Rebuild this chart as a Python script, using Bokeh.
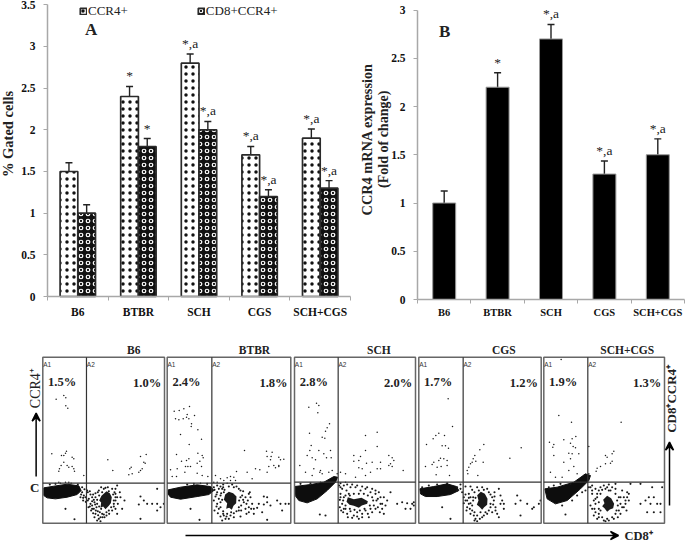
from bokeh.plotting import figure
from bokeh.models import (ColumnDataSource, Whisker, TeeHead, Label, LabelSet, Legend, LegendItem,
                          FixedTicker, Range1d, Arrow, VeeHead, LinearAxis)
from bokeh.embed import file_html
from bokeh.resources import INLINE

SERIF = "Liberation Serif"
W, H = 685, 541
groups = ["B6", "BTBR", "SCH", "CGS", "SCH+CGS"]

ccr4 = [1.5, 2.4, 2.8, 1.7, 1.9]
ccr4_err = [0.105, 0.12, 0.11, 0.10, 0.11]
ccr4_marks = ["", "*", "*,a", "*,a", "*,a"]
cd8 = [1.0, 1.8, 2.0, 1.2, 1.3]
cd8_err = [0.10, 0.095, 0.10, 0.08, 0.09]
cd8_marks = ["", "*", "*,a", "*,a", "*,a"]

mrna = [1.0, 2.2, 2.7, 1.3, 1.5]
mrna_err = [0.125, 0.15, 0.15, 0.135, 0.165]
mrna_marks = ["", "*", "*,a", "*,a", "*,a"]

pct_a1 = ["1.5%", "2.4%", "2.8%", "1.7%", "1.9%"]
pct_a2 = ["1.0%", "1.8%", "2.0%", "1.2%", "1.3%"]

# flow panels: channel window (x0, x1, y bottom, y top), gates and events
windows = [(127, 492, 548, 50), (500, 871, 548, 50), (12, 375, 548, 50), (385, 752, 548, 50), (760, 1122, 548, 50)]
panel_px = [(42.3, 164), (166.7, 290.3), (294, 415), (418.3, 540.7), (543.3, 664)]
gates = [(258, 428), (634, 428), (143, 425), (518, 425), (892, 425)]

b6_blob = [(130,442),(160,437),(200,431),(235,436),(242,450),(230,462),(200,470),(165,475),(140,472),(130,465)]
b6_core = [(303,466),(318,452),(328,458),(334,470),(331,488),(325,496),(315,506),(308,498),(300,502),(302,486),(296,480)]
b6_events = [(167,176),(190,165),(196,172),(196,196),(202,203),(154,340),(198,332),(195,338),(190,345),(183,345),(215,350),(220,355),(190,365),(182,375),(177,385),(175,392),(200,375),(205,380),(215,378),(220,385),(222,392),(175,425),(205,425),(250,405),
 (322,358),(337,390),(437,342),(420,348),(430,365),(434,368),(425,385),(420,390),(415,395),(392,380),(388,385),(395,400),(385,403),
 (420,468),(430,480),(415,492),(440,490),(455,490),(470,490),(480,500),(470,510),(490,490),(470,445),(350,435),(345,460),(360,470),(372,480),(365,505),(350,520),(195,505),(222,536),(420,535),
 (245,455),(250,465),(255,470),(262,480),(265,475),(270,490),(275,495),(260,450),(268,452),(278,462),(285,470),(282,485),(290,478),(288,500),(280,505),(292,512),(285,520),(295,535),(290,540),(300,530),(305,520),(298,515),(310,522),(318,515),(325,510),(332,500),(340,490),(345,505),(340,480),(345,470),(322,440),(310,445),(295,450),(302,440),(335,445),(248,480),(240,470),(272,510),(278,518),
 (262,455),(270,462),(275,470),(280,478),(285,458),(292,455),(296,465),(275,482),(268,498),(284,492),(290,490),(296,498),(302,505),(286,510),(293,524),(300,542),(306,530),(312,530),(318,525),(326,520),(335,510),(340,498),(345,480),(352,490),(358,455),(350,470),(325,452),(315,442),(305,455),(342,455),(338,462),(345,445),(212,428),(205,432),(180,428),(195,425),(165,430),(148,432),(232,432),(245,440),(252,446),(242,462),(248,472),(256,484),(264,500),(275,505),(282,530)]

btbr_blob = [(503,448),(540,440),(590,433),(630,438),(640,450),(625,462),(590,468),(540,476),(510,470),(502,460)]
btbr_core = [(674,462),(685,454),(698,458),(708,468),(707,488),(699,496),(694,508),(686,502),(677,505),(680,488),(670,478)]
btbr_events = [(521,212),(536,210),(550,205),(567,198),(525,235),(535,238),(548,235),(558,230),(565,235),(573,250),(572,258),(560,222),(582,225),(592,268),(540,282),(603,296),(566,312),(528,342),(592,338),(605,345),(608,352),(565,355),(558,360),(543,362),(598,362),(590,368),(603,378),(555,378),(562,378),(570,378),(510,388),(530,385),(553,395),(590,398),(515,408),(528,408),(605,405),(622,408),
 (732,330),(798,332),(815,335),(800,348),(812,348),(835,350),(850,356),(810,358),(840,358),(820,375),(835,375),(805,378),(825,382),(835,378),(800,395),(765,385),(778,388),(740,395),(708,393),(755,415),(690,408),(700,410),(680,412),(645,405),(660,415),(670,420),(690,420),(705,420),
 (790,468),(800,470),(800,485),(790,492),(810,495),(830,480),(840,490),(855,490),(865,490),(845,510),(760,505),(770,502),(785,515),(748,455),(745,460),(570,505),(597,538),(800,538),
 (640,440),(650,435),(660,438),(665,445),(650,455),(645,468),(655,475),(640,480),(650,490),(660,500),(668,512),(655,505),(670,525),(675,535),(665,540),(680,520),(690,525),(700,518),(715,510),(722,495),(730,485),(738,490),(735,505),(745,515),(725,465),(720,450),(700,440),(685,438),(670,455),(660,465),(665,478),(720,528),(745,500),
 (642,448),(648,462),(655,445),(662,458),(668,440),(672,448),(660,485),(648,498),(642,510),(652,518),(660,528),(668,520),(678,528),(685,535),(692,515),(700,530),(708,512),(715,500),(722,510),(728,478),(735,470),(742,480),(728,452),(715,445),(708,438),(695,432),(680,428),(668,432),(640,425),(650,425),(620,430),(600,428),(580,430),(560,432),(720,470),(716,480),(750,470),(755,490),(738,520),(752,505),(760,520),(775,490)]

sch_blob = [(12,438),(60,432),(100,425),(130,408),(141,410),(135,425),(110,450),(80,475),(50,487),(25,480),(14,465)]
sch_core = [(172,470),(190,476),(213,472),(232,482),(230,490),(214,495),(205,502),(190,496),(177,493),(168,484)]
sch_events = [(55,200),(78,188),(85,195),(82,217),(117,250),(110,262),(105,272),(57,278),(95,290),(103,293),(62,315),(58,330),(85,330),(100,340),(120,330),(50,345),(65,352),(75,358),(108,352),(122,352),(28,375),(90,390),(95,400),(88,395),(45,395),(70,385),(125,390),(140,400),(65,405),(115,395),
 (260,275),(225,285),(260,318),(225,330),(190,345),(210,348),(295,345),(305,352),(310,360),(205,360),(190,362),(245,365),(228,368),(270,365),(300,370),(295,375),(305,378),(205,382),(215,385),(260,385),(270,385),(240,395),(338,390),(150,395),(165,400),(195,410),(225,405),
 (335,485),(350,488),(365,490),(370,495),(345,505),(360,505),(370,485),(320,490),(300,455),(275,490),(280,520),(88,522),(105,525),(205,535),
 (146,435),(155,445),(150,460),(160,470),(148,478),(155,490),(165,505),(158,515),(170,520),(180,512),(190,525),(200,515),(215,520),(225,510),(240,505),(250,495),(258,480),(245,470),(240,455),(225,445),(210,450),(195,440),(180,440),(168,450),(175,460),(255,460),(262,500),(270,470),(235,530),(148,500),
 (150,440),(160,435),(170,432),(185,432),(200,435),(215,438),(230,440),(245,445),(255,450),(265,455),(150,470),(158,480),(165,465),(178,465),(190,460),(205,460),(220,460),(232,465),(248,480),(262,475),(270,490),(255,505),(245,515),(232,520),(215,530),(200,528),(185,532),(172,530),(160,505),(152,510),(165,495),(178,505),(192,508),(208,510),(222,505),(238,495),(280,470),(285,495),(275,505),(268,515),(290,480),(150,428),(165,425),(60,428),(30,430),(90,425)]

cgs_blob = [(388,445),(430,438),(470,430),(498,438),(505,450),(480,462),(440,468),(405,468),(390,460)]
cgs_core = [(560,464),(571,454),(583,460),(591,475),(590,493),(581,500),(575,508),(566,498),(559,493),(564,480)]
cgs_events = [(473,175),(486,258),(445,278),(436,285),(462,285),(428,295),(408,312),(455,316),(465,316),(474,323),(450,353),(445,360),(460,355),(470,360),(430,365),(425,372),(405,378),(440,380),(452,378),(470,375),(437,403),(477,405),
 (692,322),(658,353),(580,312),(568,328),(553,345),(548,355),(545,365),(540,370),(556,362),(535,380),(530,390),(532,400),(562,405),(578,365),
 (680,465),(690,480),(675,490),(710,490),(725,505),(745,490),(750,480),(730,500),(690,525),(640,490),(630,490),(615,510),(455,500),(480,535),(500,450),
 (510,445),(520,470),(525,480),(535,490),(530,500),(545,510),(550,525),(555,535),(560,542),(540,470),(548,480),(535,460),(552,455),(565,450),(580,448),(595,455),(605,470),(610,480),(600,500),(605,515),(590,520),(580,525),(570,515),(625,445),(630,465),(612,455),(640,505),(625,530),
 (515,455),(525,462),(535,472),(530,480),(540,488),(545,495),(538,505),(552,515),(560,525),(568,535),(552,540),(575,530),(585,515),(595,510),(600,490),(608,492),(612,468),(600,462),(590,445),(575,440),(560,440),(545,448),(520,488),(528,510),(540,520),(548,470),(555,472),(615,500),(620,520),(635,480),(500,440),(510,432),(470,428),(440,432),(415,435),(395,440),(525,438),(540,438)]

schcgs_blob = [(763,445),(800,440),(850,425),(885,400),(900,405),(895,420),(870,445),(830,480),(795,490),(770,475)]
schcgs_core = [(938,478),(950,466),(962,473),(971,490),(968,503),(958,507),(950,514),(942,503),(935,497),(942,488)]
schcgs_events = [(812,57),(805,225),(843,245),(856,288),(845,295),(820,298),(777,305),(790,312),(787,320),(840,308),(848,318),(855,322),(835,338),(845,340),(865,340),(790,345),(840,355),(820,365),(850,378),(780,395),(835,390),(815,410),(795,410),(860,400),(880,405),
 (992,245),(970,332),(965,340),(945,345),(950,350),(965,362),(960,368),(945,370),(930,378),(920,383),(917,392),(895,318),(895,400),
 (1005,480),(1015,460),(1050,490),(1065,480),(1075,470),(1080,490),(1090,470),(1100,490),(1110,490),(1115,440),(1085,440),(1050,430),(1020,430),(1070,515),(1090,515),(1110,515),(825,522),(815,495),(940,435),
 (900,440),(905,460),(910,480),(900,495),(912,505),(920,470),(925,450),(930,440),(945,445),(955,450),(965,440),(975,460),(985,470),(990,490),(985,510),(975,520),(965,530),(950,535),(935,530),(925,520),(930,510),(915,490),(1000,500),(1010,470),(995,450),(920,535),(945,542),
 (905,435),(915,445),(920,460),(915,475),(925,485),(930,460),(935,448),(950,440),(960,450),(975,445),(980,480),(990,470),(995,500),(990,520),(982,530),(970,535),(955,540),(940,540),(925,530),(915,515),(905,505),(910,525),(925,505),(982,495),(978,510),(1000,470),(1005,490),(1008,510),(1015,480),(1010,455),(975,430),(955,432),(905,450),(895,440),(885,450),(875,455),(860,465),(845,480),(810,430),(790,435),(775,440),(840,430),(870,425)]

blobs = [b6_blob, btbr_blob, sch_blob, cgs_blob, schcgs_blob]
cores = [b6_core, btbr_core, sch_core, cgs_core, schcgs_core]
events = [b6_events, btbr_events, sch_events, cgs_events, schcgs_events]

AXIS = "#a8a8a8"
INK = "#222222"


def full_x(d0, d1, px0, px1):
    k = (d1 - d0) / (px1 - px0)
    return Range1d(d0 - px0 * k, d1 + (W - px1) * k)


def full_y(d0, d1, px_bottom, px_top):
    # d0 sits at pixel row px_bottom, d1 at px_top
    k = (d1 - d0) / (px_bottom - px_top)
    return Range1d(d0 - (H - px_bottom) * k, d1 + px_top * k)


p = figure(width=W, height=H, x_range=Range1d(0, W), y_range=Range1d(H, 0), output_backend="svg",
           toolbar_location=None, min_border=0, x_axis_type=None, y_axis_type=None)
p.grid.visible = False
p.outline_line_color = None
p.border_fill_color = None
p.extra_x_ranges = {"ax": full_x(0, 5, 47, 350), "bx": full_x(0, 5, 417, 684)}
p.extra_y_ranges = {"ay": full_y(0, 3.5, 296, 4.3), "by": full_y(0, 3, 299, 9.5)}


def make_axes(xn, yn, yticks, xbound, ybound, label_px, standoff):
    ax = LinearAxis(x_range_name=xn, y_range_name=yn, fixed_location=0, bounds=(0, xbound),
                    ticker=FixedTicker(ticks=[0.5, 1.5, 2.5, 3.5, 4.5], minor_ticks=[0, 1, 2, 3, 4, 5]),
                    major_label_overrides={i + 0.5: g for i, g in enumerate(groups)},
                    axis_line_color=AXIS, axis_line_width=1.5, major_tick_line_color=None,
                    minor_tick_line_color=AXIS, minor_tick_out=4, minor_tick_in=0,
                    major_label_text_font=SERIF, major_label_text_font_style="bold",
                    major_label_text_font_size=label_px, major_label_text_color="#111111",
                    major_label_standoff=standoff)
    p.add_layout(ax, "below")
    ay = LinearAxis(x_range_name=xn, y_range_name=yn, fixed_location=0, bounds=(0, ybound),
                    ticker=FixedTicker(ticks=yticks),
                    major_label_overrides={0: "0", 1: "1", 2: "2", 3: "3"},
                    axis_line_color=AXIS, axis_line_width=1.5, major_tick_line_color=AXIS,
                    major_tick_out=4, major_tick_in=0, minor_tick_line_color=None,
                    major_label_text_font=SERIF, major_label_text_font_style="bold",
                    major_label_text_font_size="11.5px", major_label_text_color="#111111",
                    major_label_standoff=8)
    p.add_layout(ay, "left")


def bar_marks(xn, yn, xs, vals, errs, marks, both=True):
    top = [v + e for v, e in zip(vals, errs)]
    low = [v - e if both else v for v, e in zip(vals, errs)]
    src = ColumnDataSource(dict(x=xs, up=top, lo=low, m=marks))
    p.add_layout(Whisker(source=src, base="x", upper="up", lower="lo", dimension="height",
                         x_range_name=xn, y_range_name=yn, line_color=INK, line_width=1.4,
                         upper_head=TeeHead(size=7, line_color=INK, line_width=1.4),
                         lower_head=TeeHead(size=7 if both else 1, line_color=INK, line_width=1.4)))
    p.add_layout(LabelSet(source=src, x="x", y="up", text="m", text_font=SERIF, text_font_size="13.5px",
                          x_range_name=xn, y_range_name=yn, text_align="center", text_baseline="bottom",
                          y_offset=3, text_color=INK))


def note(xn, yn, x, y, text, size, bold=True, angle=0, align="center", font=SERIF, color=INK):
    p.add_layout(Label(x=x, y=y, text=text, x_range_name=xn, y_range_name=yn, angle=angle, text_font=font,
                       text_font_style="bold" if bold else "normal", text_font_size=size, text_align=align,
                       text_baseline="middle", text_color=color))


# ---- panel A
make_axes("ax", "ay", [0, 0.5, 1, 1.5, 2, 2.5, 3, 3.5], 5, 3.5, "11.5px", 3)
xa1 = [i + 0.5 - 0.146 for i in range(5)]
xa2 = [i + 0.5 + 0.146 for i in range(5)]
r1 = p.vbar(x=xa1, top=ccr4, bottom=0, width=0.292, x_range_name="ax", y_range_name="ay", fill_color="white",
            line_color="#2a2a2a", line_width=1.7, hatch_pattern="dot", hatch_color="#111111", hatch_scale=7,
            hatch_weight=1)
r2 = p.vbar(x=xa2, top=cd8, bottom=0, width=0.292, x_range_name="ax", y_range_name="ay", fill_color="#111111",
            line_color="#2a2a2a", line_width=1.7, hatch_pattern="ring", hatch_color="white", hatch_scale=7,
            hatch_weight=1.2)
bar_marks("ax", "ay", xa1, ccr4, ccr4_err, ccr4_marks)
bar_marks("ax", "ay", xa2, cd8, cd8_err, cd8_marks)
p.add_layout(Legend(items=[LegendItem(label="CCR4+", renderers=[r1]), LegendItem(label="CD8+CCR4+", renderers=[r2])],
                    orientation="horizontal", location=(79, H - 19), border_line_color=None, background_fill_alpha=0,
                    glyph_width=8, glyph_height=8, label_standoff=1, spacing=69, margin=0, padding=0,
                    label_text_font=SERIF, label_text_font_size="13px", label_text_color=INK))
note("ax", "ay", 0.72, 3.2, "A", "17px")
note("ax", "ay", -0.66, 1.95, "% Gated cells", "14.5px", angle=1.5708)

# ---- panel B
make_axes("bx", "by", [0, 0.5, 1, 1.5, 2, 2.5, 3], 5, 3, "10.5px", 1)
xb = [i + 0.5 for i in range(5)]
p.vbar(x=xb, top=mrna, bottom=0, width=0.43, x_range_name="bx", y_range_name="by", fill_color="black",
       line_color="#999999", line_width=1)
bar_marks("bx", "by", xb, mrna, mrna_err, mrna_marks, both=False)
note("bx", "by", 0.51, 2.78, "B", "17px")
note("bx", "by", -0.95, 1.66, "CCR4 mRNA expression", "14.3px", angle=1.5708)
note("bx", "by", -0.64, 1.66, "(Fold of change)", "14px", angle=1.5708)

# ---- flow panels
title_x = [400, 762, 265, 640, 1010]
for i in range(5):
    x0, xe, yb, yt = windows[i]
    gx, gy = gates[i]
    xn, yn = f"fx{i}", f"fy{i}"
    p.extra_x_ranges[xn] = full_x(x0, xe, *panel_px[i])
    p.extra_y_ranges[yn] = full_y(yb, yt, 522.7, 356.7)
    kw = dict(x_range_name=xn, y_range_name=yn)
    p.patch([a for a, _ in blobs[i]], [b for _, b in blobs[i]], fill_color="#0d0d0d", line_color="#0d0d0d", **kw)
    p.patch([a for a, _ in cores[i]], [b for _, b in cores[i]], fill_color="#1a1a1a", line_color=None, **kw)
    ev = ColumnDataSource(dict(x=[a for a, _ in events[i]], y=[b for _, b in events[i]],
                               s=[2.1 if b > gy else 1.5 for _, b in events[i]]))
    p.scatter("x", "y", source=ev, size="s", marker="circle", fill_color="#1a1a1a", line_color=None, **kw)
    p.quad(left=[x0], right=[xe], top=[yt], bottom=[yb], fill_color=None, line_color="#666666", line_width=1.5, **kw)
    p.segment(x0=[gx, x0], y0=[yb, gy], x1=[gx, xe], y1=[yt, gy], line_color="#333333", line_width=1.2, **kw)
    note(xn, yn, x0 + 1, 72, "A1", "6.5px", bold=False, align="left", font="Liberation Sans", color="#333333")
    note(xn, yn, gx + 1, 72, "A2", "6.5px", bold=False, align="left", font="Liberation Sans", color="#333333")
    note(xn, yn, x0 + 58, 124, pct_a1[i], "12.5px")
    note(xn, yn, xe - 52, 127, pct_a2[i], "12.5px")
    note(xn, yn, title_x[i], 27, groups[i], "11.5px")

# ---- side labels and arrows
ARROW = dict(line_color="black", line_width=1.5)
note("fx0", "fy0", 103, 440, "C", "13px")
note("fx0", "fy0", 106, 143, "CCR4\u207a", "14px", bold=False, angle=1.5708)
p.add_layout(Arrow(x_start=107, y_start=408, x_end=107, y_end=218, x_range_name="fx0", y_range_name="fy0",
                   end=VeeHead(size=8, **ARROW), **ARROW))
note("fx4", "fy4", 1144, 175, "CD8\u207aCCR4\u207a", "13px", angle=1.5708)
p.add_layout(Arrow(x_start=1137, y_start=495, x_end=1137, y_end=305, x_range_name="fx4", y_range_name="fy4",
                   end=VeeHead(size=8, **ARROW), **ARROW))
p.add_layout(Arrow(x_start=185, y_start=535, x_end=618, y_end=535, end=VeeHead(size=8, **ARROW), **ARROW))
note("default", "default", 624, 535, "CD8\u207a", "12.5px", align="left")

open("out.html", "w").write(file_html(p, INLINE))
